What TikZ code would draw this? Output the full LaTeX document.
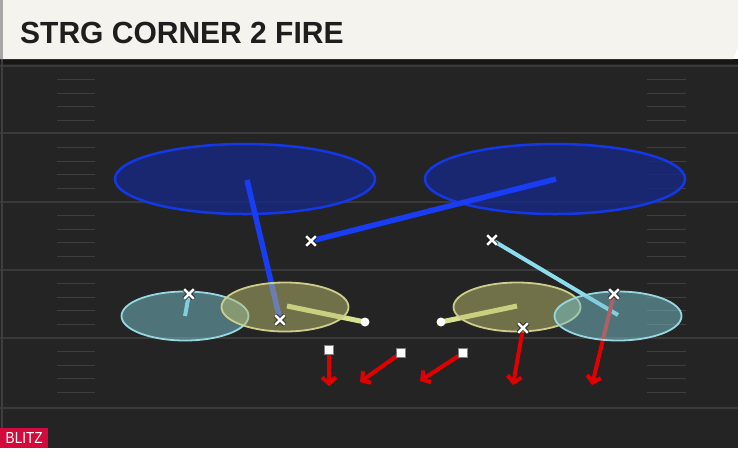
\documentclass[tikz,border=0pt]{standalone}
\usepackage{fontspec}
\usepackage{graphicx}
\setmainfont{Liberation Sans}
\usetikzlibrary{shapes.geometric,shapes.misc,arrows.meta}
\definecolor{paper}{RGB}{245,243,237}
\definecolor{ink}{RGB}{30,30,30}
\definecolor{turf}{RGB}{36,36,36}
\definecolor{band}{RGB}{22,22,22}
\definecolor{chalk}{RGB}{58,58,58}
\definecolor{hashc}{RGB}{62,62,62}
\definecolor{zoneblue}{RGB}{22,40,130}
\definecolor{edgeblue}{RGB}{20,56,230}
\definecolor{routeblue}{RGB}{25,60,245}
\definecolor{zonecyan}{RGB}{120,195,205}
\definecolor{edgecyan}{RGB}{150,215,225}
\definecolor{routecyan}{RGB}{140,220,240}
\definecolor{zoneyel}{RGB}{190,190,110}
\definecolor{edgeyel}{RGB}{205,205,140}
\definecolor{routeyel}{RGB}{215,225,145}
\definecolor{rushred}{RGB}{225,0,0}
\definecolor{tagred}{RGB}{212,10,58}
\pgfdeclarelayer{field}
\pgfdeclarelayer{routes}
\pgfdeclarelayer{zones}
\pgfsetlayers{field,routes,zones,main}

\begin{document}
\begin{tikzpicture}
[x=1pt,y=-1pt,
deep/.style={ellipse,draw=edgeblue,line width=2.5pt,fill=zoneblue,fill opacity=.8,minimum width=260pt,minimum height=70pt,inner sep=0pt},
flat/.style={ellipse,line width=1.8pt,fill opacity=.5,minimum width=127pt,minimum height=49pt,inner sep=0pt},
defx/.style={cross out,draw=white,line width=2.6pt,minimum size=7pt,inner sep=0pt,preaction={draw=black,line width=4pt}},
off/.style={rectangle,fill=white,draw=gray,line width=.6pt,minimum size=9pt,inner sep=0pt},
rec/.style={circle,fill=white,minimum size=9pt,inner sep=0pt},
bluert/.style={draw=routeblue,line width=5.5pt},
cyanrt/.style={draw=routecyan,line width=4pt},
yelrt/.style={draw=routeyel,line width=5pt},
blitz/.style={draw=rushred,line width=4pt,-{Straight Barb[length=6pt,width=14pt]}}]
\useasboundingbox (0,0) rectangle (738,448);
\begin{pgfonlayer}{field}
\fill[turf] (0,59) rectangle (738,448);
\fill[band] (0,59) rectangle (738,64);
\foreach \y in {66,133,202,270,338,408}
\draw[chalk,line width=1.5pt] (0,\y) -- (738,\y);
\foreach \y in {66,134,202,270,338}
\foreach \k in {1,...,4}
{\draw[hashc,line width=1.3pt] (57,{\y+\k*13.6}) -- (95,{\y+\k*13.6});
\draw[hashc,line width=1.3pt] (647,{\y+\k*13.6}) -- (686,{\y+\k*13.6});}
\draw[hashc,line width=1.5pt] (2,59) -- (2,448);
\fill[paper] (0,0) -- (738,0) -- (738,48) -- (733,59) -- (0,59) -- cycle;
\fill[gray!70] (0,0) rectangle (3,59);
\node[deep] (zl) at (245,179) {};
\node[deep] (zr) at (555,179) {};
\end{pgfonlayer}
\node[anchor=base west,text=ink,inner sep=0pt,font=\fontsize{30}{30}\selectfont\bfseries] (title) at (20,43) {\scalebox{1}[1.02]{STRG CORNER 2 FIRE}};
\node[anchor=south west,fill=tagred,text=white,minimum width=48pt,minimum height=20pt,inner sep=0pt,font=\fontsize{16}{16}\selectfont] (tag) at (0,448) {\scalebox{.85}[1]{BLITZ}};
\node[defx] (x1) at (189,294) {};
\node[defx] (x2) at (280,320) {};
\node[defx] (x3) at (311,241) {};
\node[defx] (x4) at (492,240) {};
\node[defx] (x5) at (614,294) {};
\node[defx] (x6) at (523,328) {};
\node[off] (o1) at (329,350) {};
\node[off] (o2) at (401,353) {};
\node[off] (o3) at (463,353) {};
\node[rec] (r1) at (365,322) {};
\node[rec] (r2) at (441,322) {};
\coordinate (e1) at (185,316);
\coordinate (e2) at (247,180);
\coordinate (e3) at (556,179);
\coordinate (e4) at (618,315);
\coordinate (e5) at (287,306);
\coordinate (e6) at (517,306);
\coordinate (a1) at (329,386);
\coordinate (a2) at (360,382);
\coordinate (a3) at (420,381);
\coordinate (a4) at (513,385);
\coordinate (a5) at (592,385);
\begin{pgfonlayer}{routes}
\foreach \from/\to/\kind in {x1/e1/cyanrt,x2/e2/bluert,x3/e3/bluert,x4/e4/cyanrt,r1/e5/yelrt,r2/e6/yelrt,o1/a1/blitz,o2/a2/blitz,o3/a3/blitz,x6/a4/blitz,x5/a5/blitz}
\draw[\kind] (\from.center) -- (\to);
\end{pgfonlayer}
\begin{pgfonlayer}{zones}
\node[flat,draw=edgecyan,fill=zonecyan] (cl) at (185,316) {};
\node[flat,draw=edgeyel,fill=zoneyel] (yl) at (285,307) {};
\node[flat,draw=edgeyel,fill=zoneyel] (yr) at (517,307) {};
\node[flat,draw=edgecyan,fill=zonecyan] (cr) at (618,316) {};
\end{pgfonlayer}
\end{tikzpicture}
\end{document}
